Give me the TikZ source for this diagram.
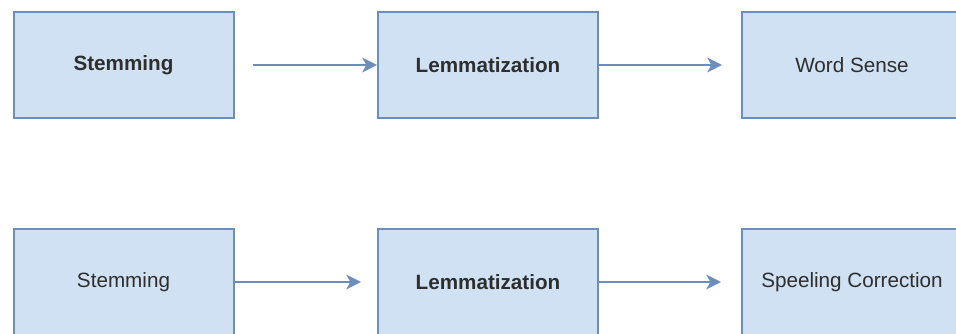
\documentclass[tikz,border=0pt]{standalone}
\usepackage{fontspec}
\setmainfont{Liberation Sans}
\usepackage{xcolor}
\usetikzlibrary{positioning, arrows.meta}

\begin{document}
\begin{tikzpicture}[x=0.75pt, y=0.75pt,
    every node/.style={font=\fontsize{15.5pt}{18pt}\selectfont, text=black!82},
    stagebox/.style={draw=boxLine, fill=boxFill, line width=1.5pt,
      minimum width=165pt, minimum height=79.5pt, inner sep=0pt},
    flow/.style={draw=boxLine, line width=1.5pt,
      -{Stealth[length=11pt, width=11pt, inset=3pt]}}]
  % Define colors
  \definecolor{boxFill}{RGB}{207,225,242}   % stage fill - light blue
  \definecolor{boxLine}{RGB}{108,142,191}   % outline and arrows

  \useasboundingbox (0,0) rectangle (956,334);

  % Upper pipeline
  \node[stagebox] (stemA) at (123.5,269) {\textbf{Stemming}};
  \node[stagebox] (lemA)  at (488,269)   {\textbf{Lemmatization}};
  \node[stagebox] (wsd)   at (852,269)   {Word Sense};

  % Lower pipeline
  \node[stagebox] (stemB) at (123.5,52) {Stemming};
  \node[stagebox] (lemB)  at (488,52)   {\textbf{Lemmatization}};
  \node[stagebox] (spell) at (852,52)   {Speeling Correction};

  % Arrows between stages
  \draw[flow, shorten <=13.5pt] (stemA) -- (lemA);
  \draw[flow, shorten >=14.25pt] (lemA) -- (wsd);
  \draw[flow, shorten >=12pt] (stemB) -- (lemB);
  \draw[flow, shorten >=15pt] (lemB) -- (spell);
\end{tikzpicture}
\end{document}
